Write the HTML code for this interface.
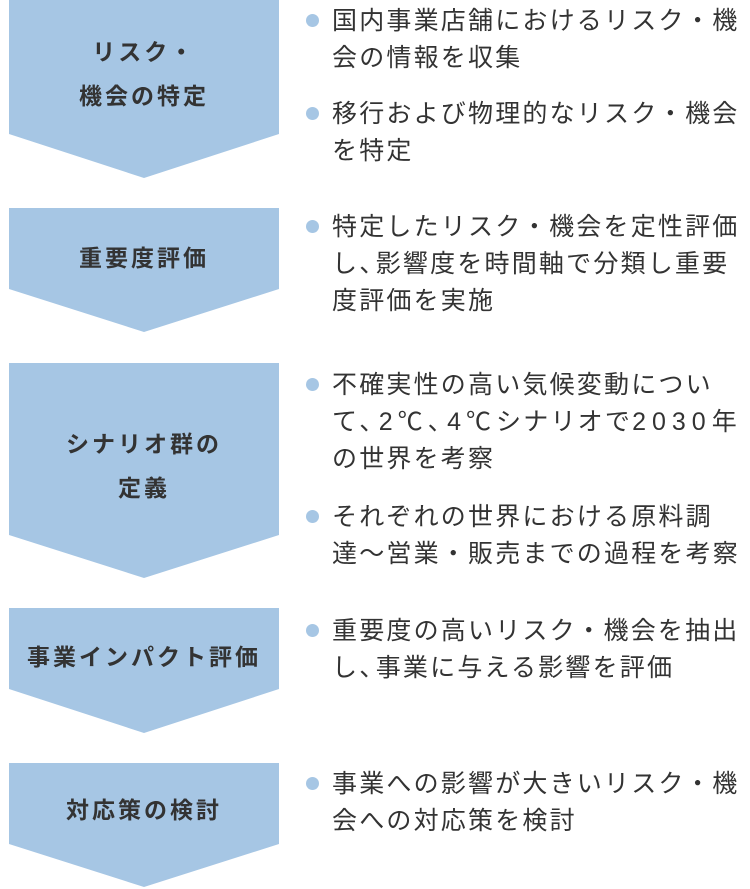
<!DOCTYPE html>
<html><head><meta charset="utf-8"><style>
body{margin:0;width:750px;height:889px;background:#fff;position:relative;overflow:hidden;font-family:"Liberation Sans","Noto Sans CJK JP",sans-serif;color:#333}
svg{position:absolute;left:0;top:0}
.l{position:absolute;left:9px;width:270px;text-align:center;font-size:23px;font-weight:bold;letter-spacing:3px;line-height:44px}
.t{position:absolute;left:332px;font-size:25px;letter-spacing:2.2px;white-space:nowrap;line-height:37px}
.h{font-feature-settings:"halt";letter-spacing:4px}
.w{letter-spacing:5px}
.b{position:absolute;left:306px;width:13px;height:13px;border-radius:50%;background:#a6c6e4}
</style></head><body>
<svg width="750" height="889">
<g fill="#a6c6e4">
<polygon points="9,0 279,0 279,134 144,178 9,134"/>
<polygon points="9,208 279,208 279,289 144,332 9,289"/>
<polygon points="9,363 279,363 279,535 144,578 9,535"/>
<polygon points="9,608 279,608 279,689 144,733 9,689"/>
<polygon points="9,763 279,763 279,844 144,887 9,844"/>
</g></svg>
<div class="l" style="top:30px">リスク・<br>機会の特定</div>
<div class="l" style="top:236px">重要度評価</div>
<div class="l" style="top:422px">シナリオ群の<br>定義</div>
<div class="l" style="top:635px">事業インパクト評価</div>
<div class="l" style="top:788px">対応策の検討</div>

<div class="b" style="top:14px"></div>
<div class="t" style="top:3px">国内事業店舗におけるリスク・機<br>会の情報を収集</div>
<div class="b" style="top:107px"></div>
<div class="t" style="top:96px">移行および物理的なリスク・機会<br>を特定</div>
<div class="b" style="top:220px"></div>
<div class="t" style="top:209px">特定したリスク・機会を定性評価<br>し<span class="h">、</span>影響度を時間軸で分類し重要<br>度評価を実施</div>
<div class="b" style="top:378px"></div>
<div class="t" style="top:367px">不確実性の高い気候変動につい<br>て<span class="h" style="letter-spacing:7px">、</span><span class="w">2℃</span><span class="h" style="letter-spacing:7px">、</span><span class="w">4℃</span>シナリオで<span style="letter-spacing:6px">2030</span>年<br>の世界を考察</div>
<div class="b" style="top:510px"></div>
<div class="t" style="top:499px">それぞれの世界における原料調<br>達～営業・販売までの過程を考察</div>
<div class="b" style="top:624px"></div>
<div class="t" style="top:613px">重要度の高いリスク・機会を抽出<br>し<span class="h">、</span>事業に与える影響を評価</div>
<div class="b" style="top:777px"></div>
<div class="t" style="top:766px">事業への影響が大きいリスク・機<br>会への対応策を検討</div>
</body></html>
